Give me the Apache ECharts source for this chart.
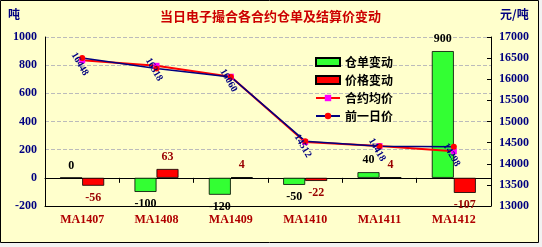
<!DOCTYPE html>
<html><head><meta charset="utf-8">
<script src="https://cdn.jsdelivr.net/npm/echarts@6/dist/echarts.min.js"></script>
<style>html,body{margin:0;padding:0;background:#F2F2F2;}#c{width:542px;height:247px;}</style>
</head><body><div id="c"></div>
<script>
const categories = ['MA1407','MA1408','MA1409','MA1410','MA1411','MA1412'];
const receiptChange = [0, -100, -120, -50, 40, 900];
const priceChange = [-56, 63, 4, -22, 4, -107];
const avgPrice = [16448, 16318, 16060, 14512, 14418, 14298];
const prevPrice = [16504, 16255, 16056, 14534, 14414, 14405];
const leftTicks = {min: -200, max: 1000, interval: 200};
const rightTicks = {min: 13000, max: 17000, interval: 500};

const FONT = "'Liberation Serif','Noto Sans CJK SC',serif";
const CJK = "'Noto Sans CJK SC',sans-serif";
function barData(arr){
  return arr.map(v => ({value: v, label: {position: v >= 0 ? 'top' : 'bottom'}}));
}
const plain = v => String(v);
const chart = echarts.init(document.getElementById('c'));
chart.setOption({
  backgroundColor: '#F2F2F2',
  animation: false,
  graphic: [
    {type:'rect', z:-10, shape:{x:0.5,y:0.5,width:538,height:242}, style:{fill:'#FFFFCC', stroke:'#000', lineWidth:1}},
    {type:'text', left:8, top:8, style:{text:'吨', font:"bold 12px " + CJK, fill:'#000080'}},
    {type:'text', left:500, top:8, style:{text:'元/吨', font:"bold 12px " + CJK, fill:'#000080'}},
    {type:'text', left:160, top:10, style:{text:'当日电子撮合各合约仓单及结算价变动', font:"bold 13px " + CJK, fill:'#CC0000'}}
  ],
  grid: {left: 45, right: 51, top: 37, bottom: 41},
  legend: {
    orient: 'vertical', left: 310, top: 51, itemWidth: 24, itemHeight: 8, itemGap: 6,
    textStyle: {fontFamily: CJK, fontSize: 12, fontWeight: 'bold', color: '#000'},
    data: [
      {name:'仓单变动', icon:'rect'},
      {name:'价格变动', icon:'rect'},
      {name:'合约均价'},
      {name:'前一日价'}
    ]
  },
  xAxis: [
    {type:'category', data: categories, axisLine:{onZero:true, lineStyle:{color:'#000'}},
     axisTick:{show:true, interval:0, inside:false, lineStyle:{color:'#000'}}, axisLabel:{show:false}},
    {type:'category', data: categories, position:'bottom', axisLine:{onZero:false, lineStyle:{color:'#000'}},
     axisTick:{show:false},
     axisLabel:{color:'#B00000', fontFamily: FONT, fontWeight:'bold', fontSize:12, margin:8}}
  ],
  yAxis: [
    {type:'value', min:leftTicks.min, max:leftTicks.max, interval:leftTicks.interval,
     axisLine:{show:true, lineStyle:{color:'#000'}}, axisTick:{show:false},
     axisLabel:{color:'#000080', fontFamily: FONT, fontWeight:'bold', fontSize:12, margin:8, formatter: plain},
     splitLine:{show:true, lineStyle:{color:'#BBBBBB', type:'dashed'}}},
    {type:'value', min:rightTicks.min, max:rightTicks.max, interval:rightTicks.interval,
     axisLine:{show:true, lineStyle:{color:'#000'}}, axisTick:{show:true, inside:true, length:4, lineStyle:{color:'#000'}},
     axisLabel:{color:'#000080', fontFamily: FONT, fontWeight:'bold', fontSize:12, margin:8, formatter: plain},
     splitLine:{show:false}}
  ],
  series: [
    {name:'仓单变动', type:'bar', xAxisIndex:0, yAxisIndex:0, barWidth:22, barGap:'0%',
     data: barData(receiptChange),
     itemStyle:{color:'#33FF33', borderColor:'#000', borderWidth:0.8},
     label:{show:true, color:'#000', fontFamily: FONT, fontWeight:'bold', fontSize:12, distance:6}},
    {name:'价格变动', type:'bar', xAxisIndex:0, yAxisIndex:0, barWidth:22, barGap:'0%',
     data: barData(priceChange),
     itemStyle:{color:'#FF0000', borderColor:'#000', borderWidth:0.8},
     label:{show:true, color:'#990000', fontFamily: FONT, fontWeight:'bold', fontSize:12, distance:6}},
    {name:'合约均价', type:'line', xAxisIndex:0, yAxisIndex:1, data: avgPrice,
     lineStyle:{color:'#FF0000', width:2}, itemStyle:{color:'#FF00FF'},
     symbol:'rect', symbolSize:6,
     label:{show:true, position:'inside', rotate:-60, offset:[2,4], color:'#000080', fontFamily: FONT, fontWeight:'bold', fontSize:10}},
    {name:'前一日价', type:'line', xAxisIndex:0, yAxisIndex:1, data: prevPrice,
     lineStyle:{color:'#000080', width:1.5}, itemStyle:{color:'#FF0000'},
     symbol:'circle', symbolSize:6}
  ]
});
</script></body></html>
